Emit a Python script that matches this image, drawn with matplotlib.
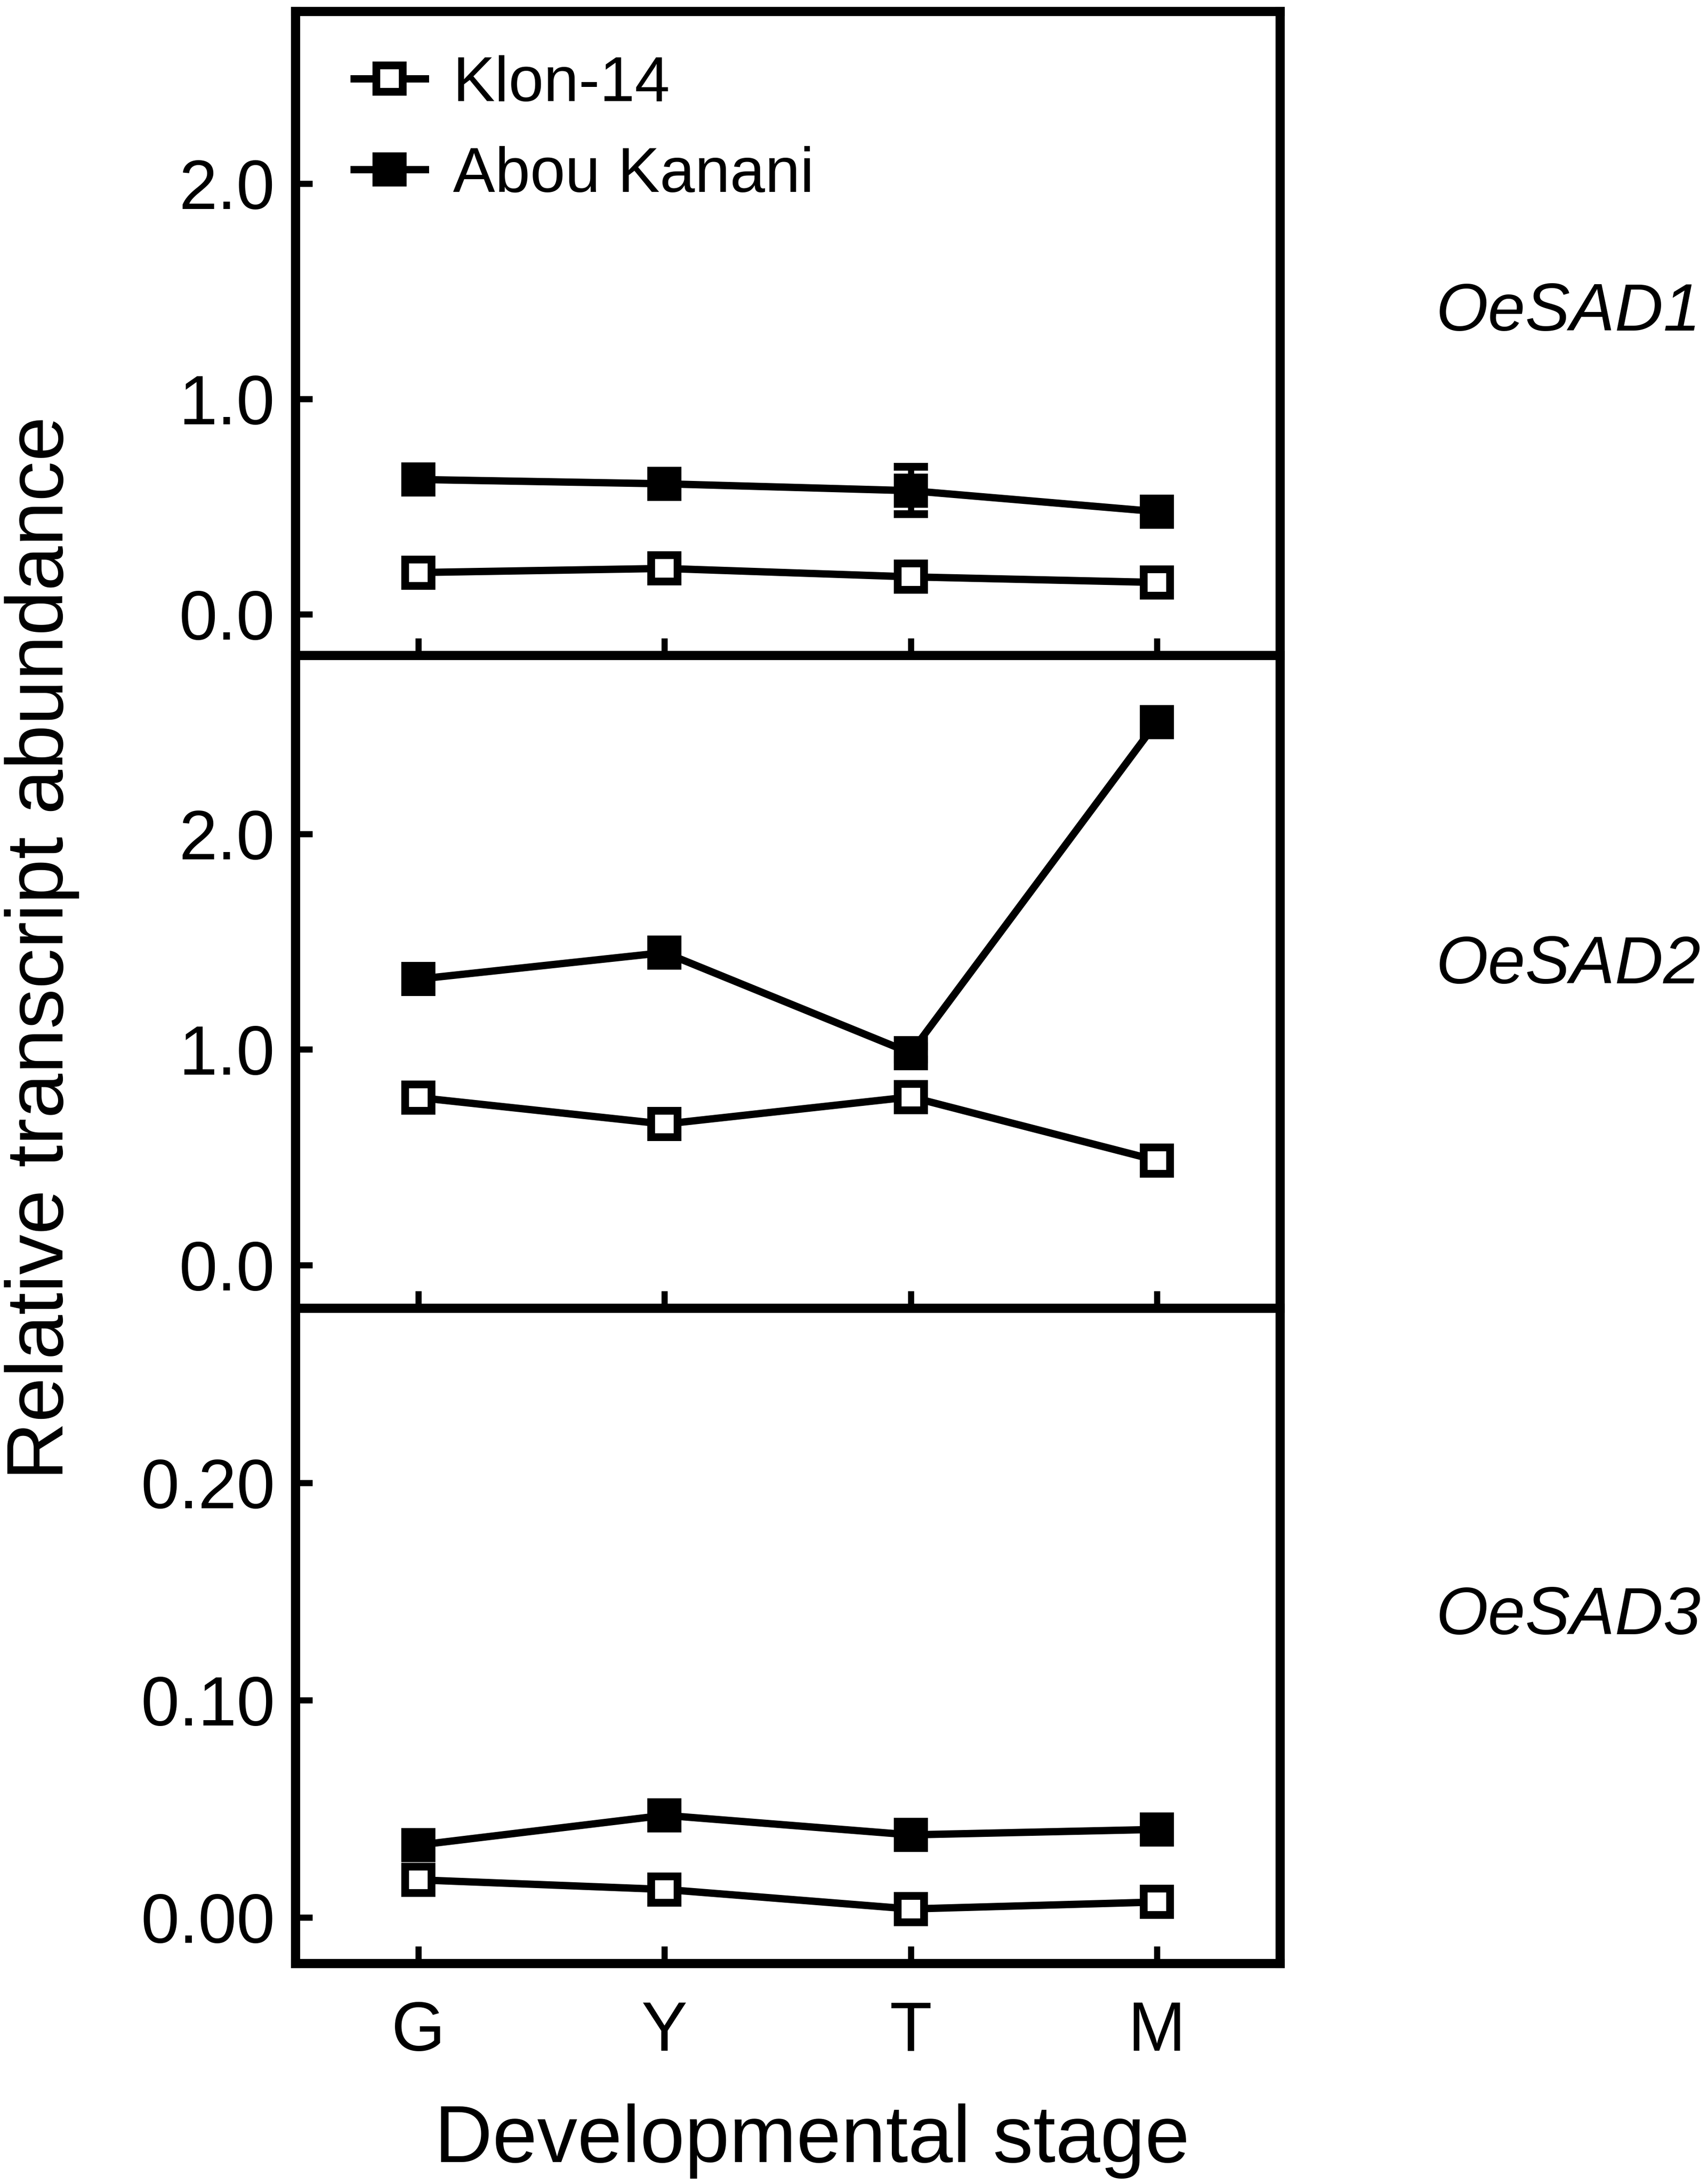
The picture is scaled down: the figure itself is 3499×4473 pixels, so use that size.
import matplotlib
matplotlib.use("Agg")
import matplotlib.pyplot as plt
from matplotlib import font_manager

plt.rcParams['font.family'] = ['Liberation Sans', 'DejaVu Sans']

nan = float('nan')

# Data
stages = ['G', 'Y', 'T', 'M']
genes = ['OeSAD1', 'OeSAD2', 'OeSAD3']

klon_sad1 = [0.194, 0.213, 0.174, 0.148]
abou_sad1 = [0.626, 0.606, 0.574, 0.477]
abou_sad1_err = [nan, nan, 0.11, nan]

klon_sad2 = [0.777, 0.654, 0.780, 0.485]
abou_sad2 = [1.327, 1.450, 0.984, 2.520]
abou_sad2_err = [nan, nan, 0.03, nan]

klon_sad3 = [0.0173, 0.0129, 0.0039, 0.0071]
abou_sad3 = [0.0333, 0.0470, 0.0380, 0.0405]
abou_sad3_err = None

yticks_big = [0.0, 1.0, 2.0]
yticks_small = [0.00, 0.10, 0.20]

panels = [
    (klon_sad1, abou_sad1, abou_sad1_err, (-0.19, 2.80), yticks_big, '%.1f'),
    (klon_sad2, abou_sad2, abou_sad2_err, (-0.20, 2.83), yticks_big, '%.1f'),
    (klon_sad3, abou_sad3, abou_sad3_err, (-0.0211, 0.2804), yticks_small, '%.2f'),
]

W, H = 3499, 4473
fig = plt.figure(figsize=(W / 300, H / 300), dpi=300)

left = 605 / W
width = (2622 - 605) / W
edges = [23, 1342, 2679, 4021]  # panel borders in pixels from the top

x = list(range(1, len(stages) + 1))
mstyle = dict(marker='s', markersize=13, markeredgewidth=3.8, color='black',
              linewidth=3.6, capsize=8.4, capthick=3.5, elinewidth=3.0)

axes = []
handles = None
for i, (klon, abou, err, ylim, yt, fmt) in enumerate(panels):
    bottom = 1 - edges[i + 1] / H
    height = (edges[i + 1] - edges[i]) / H
    ax = fig.add_axes([left, bottom, width, height])
    k = ax.errorbar(x, klon, markerfacecolor='white', **mstyle)
    a = ax.errorbar(x, abou, yerr=err, markerfacecolor='black', **mstyle)
    if handles is None:
        handles = [k[0], a[0]]

    ax.set_xlim(0.5, 4.5)
    ax.set_ylim(*ylim)
    ax.set_xticks(x)
    ax.set_yticks(yt)
    ax.set_yticklabels([fmt % v for v in yt])
    ax.tick_params(direction='in', length=8.5, width=3.0, labelsize=34)
    ax.tick_params(axis='y', pad=10)
    ax.tick_params(axis='x', pad=18)
    if i < 2:
        ax.tick_params(axis='x', labelbottom=False)
    else:
        ax.set_xticklabels(stages)
    for sp in ax.spines.values():
        sp.set_linewidth(4.5)
    axes.append(ax)

# Legend in the top panel (plain line + marker, no error bar in the key)
axes[0].legend(handles, ['Klon-14', 'Abou Kanani'], loc='upper left',
               bbox_to_anchor=(0.0595, 0.932), frameon=False,
               fontsize=31, numpoints=1, borderpad=0, borderaxespad=0,
               handlelength=1.13, handletextpad=0.44, labelspacing=0.50)

# Gene names on the right - the original uses a tall, narrow italic face.
# Look for a narrow italic sans if one is installed.
gene_prop = None
for f in font_manager.fontManager.ttflist:
    if f.name == 'Liberation Sans Narrow' and f.style == 'italic' and f.weight in (400, 'normal'):
        gene_prop = font_manager.FontProperties(fname=f.fname, size=40)
        break
if gene_prop is None:
    gene_prop = font_manager.FontProperties(family='Liberation Sans', style='italic', size=33)

gene_y = [677, 2014, 3347]
for name, gy in zip(genes, gene_y):
    fig.text(2942 / W, 1 - gy / H, name, fontproperties=gene_prop,
             ha='left', va='baseline')

# Axis titles
fig.text(86 / W, 1 - 1942 / H, 'Relative transcript abundance', fontsize=39.5,
         rotation=90, ha='center', va='center')
fig.text(1664 / W, 1 - 4428 / H, 'Developmental stage', fontsize=39.5,
         ha='center', va='baseline')

fig.savefig('out.png', dpi=300)
plt.close(fig)
